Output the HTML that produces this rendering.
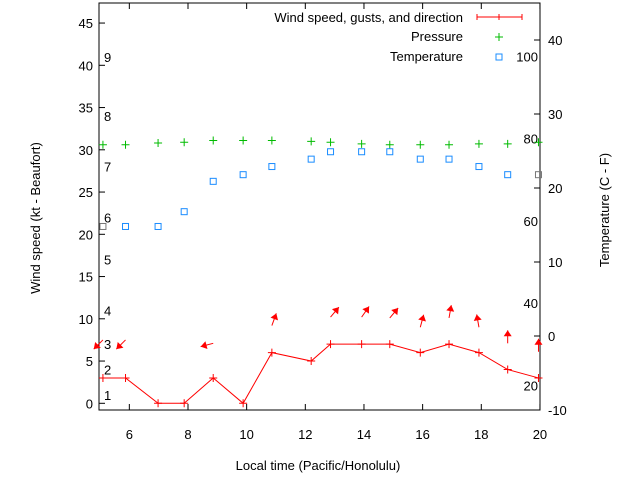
<!DOCTYPE html>
<html><head><meta charset="utf-8"><style>
body{margin:0;background:#fff}
svg{display:block;font-family:"Liberation Sans",sans-serif}
</style></head><body>
<svg id="c" width="640" height="480" viewBox="0 0 640 480"></svg>
<script>
const hours=[5.1,5.87,6.98,7.87,8.86,9.88,10.86,12.2,12.86,13.92,14.88,15.92,16.9,17.92,18.9,19.95];
const windKt=[3,3,0,0,3,0,6,5,7,7,7,6,7,6,4,3];
const pressure=[30.6,30.6,30.8,30.9,31.1,31.1,31.1,31.0,30.9,30.7,30.6,30.6,30.6,30.7,30.7,30.9];
const tempC=[14.8,14.8,14.8,16.8,20.9,21.8,22.9,23.9,24.9,24.9,24.9,23.9,23.9,22.9,21.8,21.8];
const arrowHours=[5.1,5.87,8.86,10.86,12.86,13.92,14.88,15.92,16.9,17.92,18.9,19.95];
const arrowBase=[7.5,7.5,7.1,9.2,10.2,10.2,10.1,9.0,10.1,9.0,7.1,6.1];
const arrowDeg=[225,225,195,70,50,55,50,75,80,100,90,90];
const xTicks=[6,8,10,12,14,16,18,20];
const yTicks=[0,5,10,15,20,25,30,35,40,45];
const y2Ticks=[-10,0,10,20,30,40];
const beaufort=[[1,1],[2,4],[3,7],[4,11],[5,17],[6,22],[7,28],[8,34],[9,41]];
const fahr=[20,40,60,80,100];

const L=99,R=540,T=3,B=410;
const X=t=>100+(t-5)*29.33;
const Y=v=>403.3-v*8.45;
const Y2=c=>336-c*7.4;
const s=document.getElementById('c');
const NS='http://www.w3.org/2000/svg';
function el(tag,a,txt){const e=document.createElementNS(NS,tag);for(const k in a)e.setAttribute(k,a[k]);if(txt!==undefined)e.textContent=txt;s.appendChild(e);return e;}

let e=el('rect',{x:L,y:T,width:R-L,height:B-T,fill:'none',stroke:'#000','stroke-width':1});

xTicks.forEach(t=>{
 el('line',{x1:X(t),x2:X(t),y1:B,y2:B-6,stroke:'#000'});
 el('line',{x1:X(t),x2:X(t),y1:T,y2:T+6,stroke:'#000'});
 e=el('text',{x:X(t),y:439,'text-anchor':'middle','font-size':13},t);
 
});
yTicks.forEach(v=>{
 el('line',{x1:L,x2:L+6,y1:Y(v),y2:Y(v),stroke:'#000'});
 e=el('text',{x:93,y:Y(v)+5,'text-anchor':'end','font-size':13},v);
 
});
y2Ticks.forEach(v=>{
 el('line',{x1:R,x2:R-6,y1:Y2(v),y2:Y2(v),stroke:'#000'});
 e=el('text',{x:548,y:Y2(v)+5,'text-anchor':'start','font-size':13},v);
 
});
beaufort.forEach(b=>{
 e=el('text',{x:104,y:Y(b[1])+5,'font-size':13},b[0]);
 
});
fahr.forEach(f=>{
 e=el('text',{x:538,y:Y2((f-32)*5/9)+5,'text-anchor':'end','font-size':13},f);
 
});
e=el('text',{x:318,y:470,'text-anchor':'middle','font-size':13},'Local time (Pacific/Honolulu)');

e=el('text',{x:0,y:0,'text-anchor':'middle','font-size':13,transform:'translate(40,218) rotate(-90)'},'Wind speed (kt - Beaufort)');

e=el('text',{x:0,y:0,'text-anchor':'middle','font-size':13,transform:'translate(609,210) rotate(-90)'},'Temperature (C - F)');


function plus(x,y,c,n){const g=document.createElementNS(NS,'path');g.setAttribute('d',`M${x-4},${y}H${x+4}M${x},${y-4}V${y+4}`);g.setAttribute('stroke',c);g.setAttribute('fill','none');s.appendChild(g);return g;}
// wind line
e=el('polyline',{points:hours.map((h,i)=>X(h)+','+Y(windKt[i])).join(' '),fill:'none',stroke:'#f00','stroke-width':1});

hours.forEach((h,i)=>plus(X(h),Y(windKt[i]),'#f00','wind-point'));
// arrows
arrowHours.forEach((h,i)=>{
 const x0=X(h),y0=Y(arrowBase[i]),a=arrowDeg[i]*Math.PI/180,len=13;
 const x1=x0+len*Math.cos(a),y1=y0-len*Math.sin(a);
 const ux=Math.cos(a),uy=-Math.sin(a);
 const hx=x1-6*ux,hy=y1-6*uy;
 e=el('line',{x1:x0,y1:y0,x2:x1,y2:y1,stroke:'#f00'});
 
 e=el('polygon',{points:`${x1},${y1} ${hx-4*uy},${hy+4*ux} ${hx+4*uy},${hy-4*ux}`,fill:'#f00'});
 
});
hours.forEach((h,i)=>plus(X(h),Y(pressure[i]),'#0b0','pressure-point'));
hours.forEach((h,i)=>{
 const edge=(i===0||i===hours.length-1);
 e=el('rect',{x:X(h)-3,y:Y2(tempC[i])-3,width:6,height:6,fill:'none',stroke:edge?'#777':'#1a8cff','stroke-width':1});
 
});
// legend
[['Wind speed, gusts, and direction',17],['Pressure',36],['Temperature',56]].forEach(r=>{
 e=el('text',{x:463,y:r[1]+5,'text-anchor':'end','font-size':13},r[0]);
 
});
e=el('path',{d:'M477,17H522M477,14V20M522,14V20M499,14V20',stroke:'#f00',fill:'none'});

plus(499,37,'#0b0','legend-pressure-sample');
e=el('rect',{x:496,y:54,width:6,height:6,fill:'none',stroke:'#1a8cff'});

</script>
</body></html>
